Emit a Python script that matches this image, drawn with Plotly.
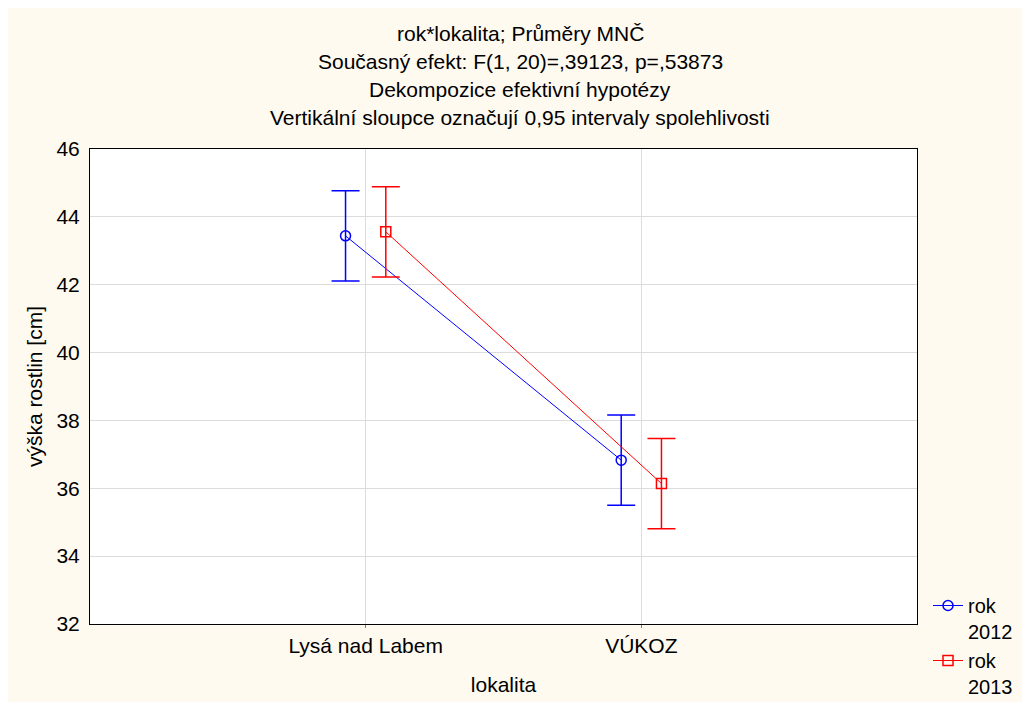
import plotly.graph_objects as go

categories = ["Lysá nad Labem", "VÚKOZ"]
series_names = ["rok<br>2012", "rok<br>2013"]
means_2012 = [43.44, 36.83]
means_2013 = [43.56, 36.14]
ci_2012 = [1.33, 1.33]
ci_2013 = [1.33, 1.33]
y_ticks = [32, 34, 36, 38, 40, 42, 44, 46]
title_lines = [
    "rok*lokalita; Průměry MNČ",
    "Současný efekt: F(1, 20)=,39123, p=,53873",
    "Dekompozice efektivní hypotézy",
    "Vertikální sloupce označují 0,95 intervaly spolehlivosti",
]

FONT = "Liberation Sans, Arial, sans-serif"
FS = 21
offset = 0.073
idx = list(range(len(categories)))

W, H = 1022, 694

fig = go.Figure()
styles = [
    ("#0000FF", "circle-open", -offset, means_2012, ci_2012),
    ("#FF0000", "square-open", offset, means_2013, ci_2013),
]
for name, (col, sym, off, vals, ci) in zip(series_names, styles):
    fig.add_trace(go.Scatter(
        x=[i + off for i in idx], y=vals, name=name,
        mode="lines+markers",
        line=dict(color=col, width=1),
        marker=dict(symbol=sym, size=10, color=col, line=dict(width=1.5, color=col)),
        error_y=dict(type="data", array=ci, visible=True, color=col, thickness=1.5, width=14),
    ))

ann = []
ys_px = [33, 61, 89, 117]
for t, ypx in zip(title_lines, ys_px):
    ann.append(dict(text=t, xref="paper", yref="paper", x=(520 - 90) / 827,
                    y=(624 - ypx) / 475, xanchor="center", yanchor="middle",
                    showarrow=False, font=dict(size=FS, color="#000000", family=FONT)))

fig.update_layout(
    width=W, height=H,
    margin=dict(l=82, r=113, t=141, b=78),
    paper_bgcolor="#FFFAF0",
    plot_bgcolor="#FFFFFF",
    font=dict(family=FONT, size=FS, color="#000000"),
    annotations=ann,
    showlegend=True,
    legend=dict(xref="container", yref="container", x=920 / W, y=1 - 578 / H,
                xanchor="left", yanchor="top", valign="top",
                bgcolor="rgba(0,0,0,0)", font=dict(size=20), tracegroupgap=0),
    xaxis=dict(range=[-1, 2], tickvals=idx, ticktext=categories, automargin=False,
               showgrid=True, gridcolor="#DCDCDC", zeroline=False,
               showline=True, linecolor="#000000", linewidth=1, mirror=True,
               ticks="outside", ticklen=3, tickcolor="#808080",
               tickfont=dict(size=FS),
               title=dict(text="lokalita", standoff=21, font=dict(size=FS))),
    yaxis=dict(range=[32, 46], tickvals=y_ticks, automargin=False,
               showgrid=True, gridcolor="#DCDCDC", zeroline=False,
               showline=True, linecolor="#000000", linewidth=1, mirror=True,
               ticks="", tickfont=dict(size=FS), ticklabelstandoff=5,
               title=dict(text="výška rostlin [cm]", standoff=8, font=dict(size=FS))),
)
fig.write_html("out.html")
